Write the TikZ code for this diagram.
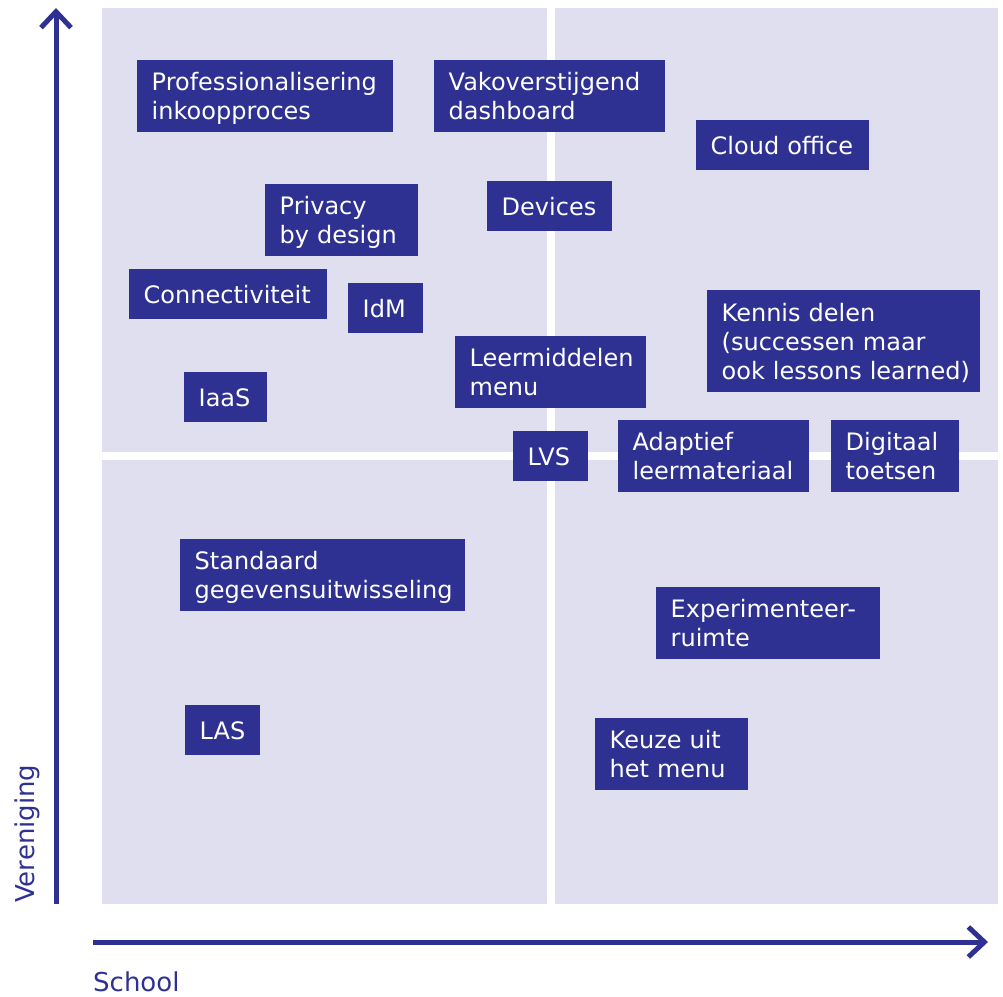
\documentclass[tikz,border=0pt]{standalone}
\usepackage{fontspec}
\setmainfont{DejaVu Sans}
\usetikzlibrary{arrows.meta}
\definecolor{donkerblauw}{RGB}{46,49,146}
\definecolor{lila}{RGB}{224,223,239}
\tikzset{
  blok/.style={fill=donkerblauw, text=white, anchor=north west, align=left,
    inner xsep=14.5pt, inner ysep=0pt, text height=18pt, text depth=0pt,
    minimum height=50pt, font=\fontsize{24}{29}\selectfont},
  twee/.style={blok, minimum height=72pt, text depth=29pt},
  drie/.style={blok, minimum height=102pt, text depth=58pt},
  as/.style={draw=donkerblauw, line width=5pt,
    -{Straight Barb[length=16pt, width=30pt]}},
  lbl/.style={text=donkerblauw, inner sep=0pt, font=\fontsize{26}{31}\selectfont},
}
\begin{document}
\begin{tikzpicture}[x=1pt, y=-1pt]
  \def\xl{102} \def\xr{998} \def\yt{8} \def\yb{904}
  \def\xm{551} \def\ym{456}
  \useasboundingbox (0,0) rectangle (1003,996);
  % vlakken
  \fill[lila] (\xl,\yt) rectangle (\xm-4,\ym-4);
  \fill[lila] (\xm+4,\yt) rectangle (\xr,\ym-4);
  \fill[lila] (\xl,\ym+4) rectangle (\xm-4,\yb);
  \fill[lila] (\xm+4,\ym+4) rectangle (\xr,\yb);
  % assen
  \coordinate (yvan) at (56,\yb);
  \coordinate (ytot) at (56,8);
  \coordinate (xvan) at (93,942);
  \coordinate (xtot) at (988,942);
  \draw[as] (yvan) -- (ytot);
  \draw[as] (xvan) -- (xtot);
  \node[lbl, rotate=90, anchor=base west] (vereniging) at (34,903) {Vereniging};
  \node[lbl, anchor=base west] (school) at (93,991.5) {School};
  % blokken
  \node[twee, text width=227pt] (prof) at (137,60) {Professionalisering\\inkoopproces};
  \node[twee, text width=202pt] (vako) at (434,60) {Vakoverstijgend\\dashboard};
  \node[blok, text width=144pt] (cloud) at (696,120) {Cloud office};
  \node[twee, text width=124pt] (privacy) at (265,184) {Privacy\\by design};
  \node[blok, text width=96pt] (devices) at (487,181) {Devices};
  \node[blok, text width=169pt] (conn) at (129,269) {Connectiviteit};
  \node[blok, text width=46pt] (idm) at (348,283) {IdM};
  \node[drie, text width=244pt] (kennis) at (707,290) {Kennis delen\\(successen maar\\\mbox{ook lessons learned)}};
  \node[twee, text width=162pt] (leermid) at (455,336) {Leermiddelen\\menu};
  \node[blok, text width=54pt] (iaas) at (184,372) {IaaS};
  \node[blok, text width=46pt] (lvs) at (513,431) {LVS};
  \node[twee, text width=162pt] (adaptief) at (618,420) {Adaptief\\leermateriaal};
  \node[twee, text width=99pt] (digitaal) at (831,420) {Digitaal\\toetsen};
  \node[twee, text width=256pt] (standaard) at (180,539) {Standaard\\\mbox{gegevensuitwisseling}};
  \node[twee, text width=195pt] (exper) at (656,587) {Experimenteer-\\ruimte};
  \node[blok, text width=46pt] (las) at (185,705) {LAS};
  \node[twee, text width=124pt] (keuze) at (595,718) {Keuze uit\\het menu};
\end{tikzpicture}
\end{document}
